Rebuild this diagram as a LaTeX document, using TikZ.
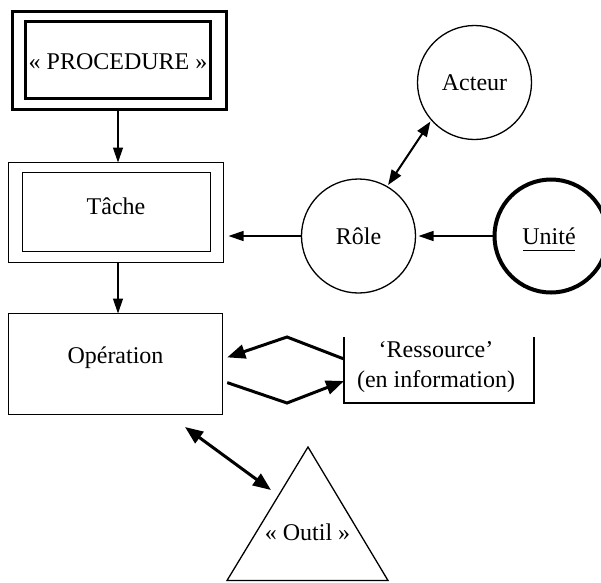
\documentclass[tikz,border=0pt]{standalone}
\usepackage{fontspec}
\setmainfont{Liberation Serif}
\usetikzlibrary{arrows.meta}
\begin{document}
\begin{tikzpicture}[x=1pt,y=-1pt,
  every node/.style={font=\fontsize{24}{30}\selectfont, inner sep=0pt, outer sep=0pt},
  thinbox/.style={draw, rectangle, line width=1.3pt},
  heavybox/.style={draw, rectangle, line width=3pt},
  circ/.style={draw, circle, line width=1.3pt, minimum size=114pt},
  heavycirc/.style={draw, circle, line width=4pt, minimum size=113pt},
  thinarrow/.style={line width=1.3pt, -{Triangle[length=15pt,width=10pt]}},
  midarrow/.style={line width=2pt, {Triangle[length=15pt,width=11pt]}-{Triangle[length=15pt,width=11pt]}},
  heavyarrow/.style={line width=3pt, -{Triangle[length=18pt,width=14pt]}},
  heavydouble/.style={line width=3pt, {Triangle[length=18pt,width=14pt]}-{Triangle[length=18pt,width=14pt]}}
]
\useasboundingbox (0,0) rectangle (601,582);

% PROCEDURE
\node[heavybox, minimum width=214pt, minimum height=98pt] (proc) at (119.5,60.5) {};
\node[heavybox, minimum width=185pt, minimum height=77pt] (procin) at (118,60) {};
\node (proctxt) at (118,62) {« PROCEDURE »};

% Tache
\node[thinbox, minimum width=215pt, minimum height=100pt] (tache) at (116,212.5) {};
\node[thinbox, minimum width=188pt, minimum height=79pt] (tachein) at (116.5,212) {};
\node (tachetxt) at (116,206) {Tâche};

% Operation
\node[thinbox, minimum width=214pt, minimum height=101pt] (op) at (115.5,364) {};
\node (optxt) at (115.5,358) {Opération};

% Ressource
\node[minimum width=190pt, minimum height=66pt] (res) at (439,370) {};
\draw[line width=1.3pt] (res.north west) -- (res.south west) -- (res.south east) -- (res.north east);
\node[align=center] (restxt) at (436,367) {‘Ressource’\\(en information)};

% circles
\node[circ] (act) at (474.5,82.5) {Acteur};
\node[circ] (role) at (358.5,236) {Rôle};
\node[heavycirc] (unite) at (551,236) {};
\node (unitetxt) at (549,236) {Unité};
\draw[line width=1pt] (523,250) coordinate (u1) -- (575,250) coordinate (u2);

% Outil triangle
\coordinate (tA) at (308,447);
\coordinate (tB) at (227,580.5);
\coordinate (tC) at (388,580.5);
\draw[line width=1.3pt, line join=miter] (tA) -- (tB) -- (tC) -- cycle;
\node (outil) at (307.5,532) {« Outil »};

% connectors
\coordinate (vx) at (118,0);
\draw[thinarrow] (vx |- proc.south) -- (vx |- tache.north);
\draw[thinarrow] (vx |- tache.south) -- (vx |- op.north);
\draw[thinarrow, shorten >=5pt] (role.west) -- (role.west -| tache.east);
\draw[thinarrow, shorten >=3pt] (unite.west) -- (role.east);
\draw[midarrow, shorten <=2pt, shorten >=2pt] (act.221.6) -- (role.60);

% Operation <-> Ressource
\coordinate (p1) at (287,337);
\coordinate (p2) at (287,403);
\draw[heavyarrow, shorten >=5pt] (res.north west |- 0,359) -- (p1) -- (op.east |- 0,359);
\draw[heavyarrow, shorten <=5pt] (op.east |- 0,381) -- (p2) -- (res.north west |- 0,381);

% Operation <-> Outil
\coordinate (o1) at (185,427);
\coordinate (o2) at (271,490);
\draw[heavydouble] (o1) -- (o2);
\end{tikzpicture}
\end{document}
